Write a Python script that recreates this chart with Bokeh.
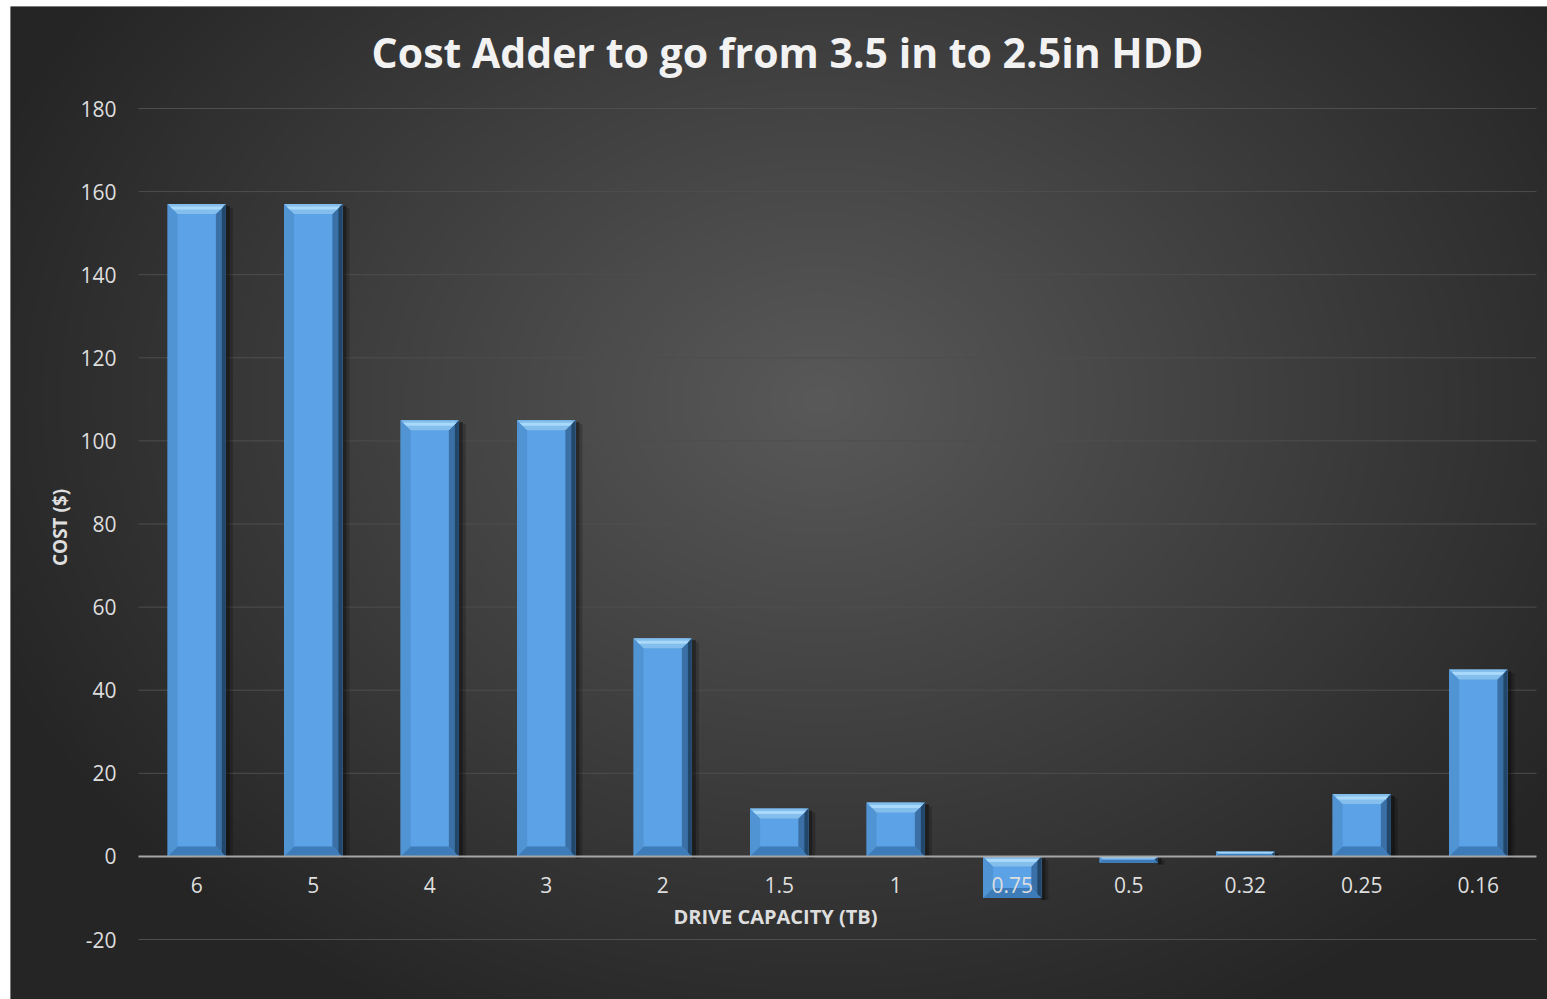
import numpy as np
from bokeh.plotting import figure
from bokeh.models import Range1d, FixedTicker, Label, LinearAxis
from bokeh.embed import file_html
from bokeh.resources import INLINE

# ---------------- data ----------------
categories = ["6", "5", "4", "3", "2", "1.5", "1", "0.75", "0.5", "0.32", "0.25", "0.16"]
cost = [157, 157, 105, 105, 52.5, 11.5, 13, -10, -1.5, 1.2, 15, 45]
y_ticks = [-20, 0, 20, 40, 60, 80, 100, 120, 140, 160, 180]
title_text = "Cost Adder to go from 3.5 in to 2.5in HDD"
x_title = "DRIVE CAPACITY (TB)"
y_title = "COST ($)"

# ---------------- geometry ----------------
W, H = 1547, 999
LEFT, TOP = 10, 6
FW, FH = W - LEFT, H - TOP
PX_X = 116.5            # pixels per category
PX_Y = 83.1 / 20.0      # pixels per dollar
n = len(categories)
xs0 = -0.5 - 128 / PX_X
xe0 = xs0 + FW / PX_X
ys0 = -20 - 60 / PX_Y
ye0 = ys0 + FH / PX_Y


def px2x(px):
    return xs0 + (px - LEFT) / PX_X


def px2y(py):
    return (856 - py) / PX_Y


p = figure(width=W, height=H, x_range=Range1d(xs0, xe0), y_range=Range1d(ys0, ye0),
           output_backend="svg", toolbar_location=None,
           min_border_left=LEFT, min_border_top=TOP, min_border_right=0, min_border_bottom=0,
           x_axis_location=None, y_axis_location=None,
           border_fill_color="white", outline_line_color=None,
           background_fill_color="#303030")
p.xgrid.visible = False
p.ygrid.visible = False

# ---------------- background radial gradient ----------------
nx, ny = 774, 500
gx = np.linspace(LEFT, W, nx)
gy = np.linspace(TOP, H, ny)
GX, GY = np.meshgrid(gx, gy)
r = np.sqrt(((GX - 820) / 900) ** 2 + ((GY - 400) / 700) ** 2)
L = 37 + 52 * np.clip(1 - r, 0, 1)
Lf = L[::-1].astype(np.uint8)
img = np.empty((ny, nx), dtype=np.uint32)
view = img.view(dtype=np.uint8).reshape((ny, nx, 4))
view[..., 0] = Lf
view[..., 1] = Lf
view[..., 2] = Lf
view[..., 3] = 255
p.image_rgba(image=[img], x=xs0, y=ys0, dw=xe0 - xs0, dh=ye0 - ys0)

# ---------------- gridlines ----------------
grid_y = [t for t in y_ticks if t != 0]
p.segment(x0=-0.5, x1=n - 0.5, y0=grid_y, y1=grid_y, line_color="#4e4e4e", line_width=1)

# ---------------- bars with bevel ----------------
xc = np.arange(n, dtype=float)
v = np.array(cost, dtype=float)
hw = 0.25
top = np.maximum(v, 0)
bot = np.minimum(v, 0)
by_full = 10 / PX_Y
bx_full = 10 / PX_X
b = np.minimum(by_full, (top - bot) / 2)
bxx = bx_full * b / by_full
l = xc - hw
rr = xc + hw

# shadow
p.quad(left=rr, right=rr + 4 / PX_X, top=top - 2 / PX_Y, bottom=bot - 2 / PX_Y,
       fill_color="black", fill_alpha=0.45, line_color=None)
p.quad(left=rr + 4 / PX_X, right=rr + 7 / PX_X, top=top - 4 / PX_Y, bottom=bot - 2 / PX_Y,
       fill_color="black", fill_alpha=0.2, line_color=None)
# face
p.quad(left=l, right=rr, top=top, bottom=bot, fill_color="#5ca2e6", line_color=None)
# left bevel
p.patches(xs=[[a, a + c, a + c, a] for a, c in zip(l, bxx)],
          ys=[[t, t - bb, o + bb, o] for t, o, bb in zip(top, bot, b)],
          fill_color="#5094d4", line_color=None)
# right bevel
p.patches(xs=[[a, a - c, a - c, a] for a, c in zip(rr, bxx)],
          ys=[[t, t - bb, o + bb, o] for t, o, bb in zip(top, bot, b)],
          fill_color="#3a70a6", line_color=None)
p.quad(left=rr - 4 / PX_X, right=rr, top=top, bottom=bot, fill_color="#23476b", line_color=None)
# bottom bevel
p.patches(xs=[[a, e, e - c, a + c] for a, e, c in zip(l, rr, bxx)],
          ys=[[o, o, o + bb, o + bb] for o, bb in zip(bot, b)],
          fill_color="#3d7cb8", line_color=None)
# top bevel
p.patches(xs=[[a, e, e - c, a + c] for a, e, c in zip(l, rr, bxx)],
          ys=[[t, t, t - bb, t - bb] for t, bb in zip(top, b)],
          fill_color="#84beec", line_color=None)
p.patches(xs=[[a + c * 0.25, e - c * 0.25, e - c * 0.55, a + c * 0.55] for a, e, c in zip(l, rr, bxx)],
          ys=[[t - bb * 0.25, t - bb * 0.25, t - bb * 0.55, t - bb * 0.55] for t, bb in zip(top, b)],
          fill_color="#a9d9fa", line_color=None)

# ---------------- axes ----------------
LABEL_COLOR = "#dedede"
xaxis = LinearAxis(ticker=FixedTicker(ticks=list(range(n))), fixed_location=0,
                   bounds=(-0.5, n - 0.5),
                   major_label_overrides={i: c for i, c in enumerate(categories)},
                   axis_line_color="#a6a6a6", axis_line_width=2,
                   major_tick_line_color=None, minor_tick_line_color=None,
                   major_tick_out=0, major_tick_in=0,
                   major_label_standoff=21,
                   major_label_text_font="Open Sans", major_label_text_font_size="21px",
                   major_label_text_color=LABEL_COLOR)
p.add_layout(xaxis, "below")

yaxis = LinearAxis(ticker=FixedTicker(ticks=y_ticks), fixed_location=-0.5,
                   major_label_overrides={t: str(t) for t in y_ticks},
                   axis_line_color=None,
                   major_tick_line_color=None, minor_tick_line_color=None,
                   major_tick_out=0, major_tick_in=0,
                   major_label_standoff=22,
                   major_label_text_font="Open Sans", major_label_text_font_size="21px",
                   major_label_text_color=LABEL_COLOR)
p.add_layout(yaxis, "left")

# axis titles
p.add_layout(Label(x=px2x(775), y=px2y(916), text=x_title,
                   text_align="center", text_baseline="middle",
                   text_font="Open Sans", text_font_style="bold", text_font_size="20px",
                   text_color=LABEL_COLOR))
p.add_layout(Label(x=px2x(59), y=px2y(527), text=y_title, angle=np.pi / 2,
                   text_align="center", text_baseline="middle",
                   text_font="Open Sans", text_font_style="bold", text_font_size="19px",
                   text_color=LABEL_COLOR))

# ---------------- title ----------------
p.add_layout(Label(x=px2x(787), y=px2y(52), text=title_text,
                   text_align="center", text_baseline="middle",
                   text_font="Open Sans", text_font_style="bold", text_font_size="41px",
                   text_color="#f2f2f2"))

open("out.html", "w").write(file_html(p, INLINE))
